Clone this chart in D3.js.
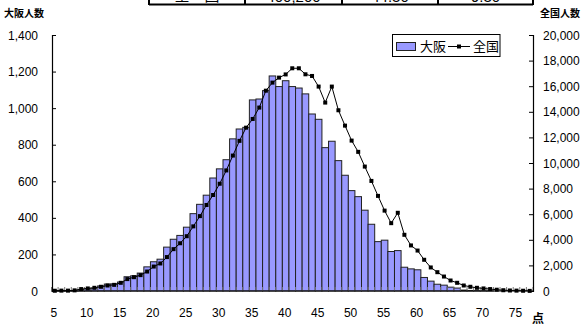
<!DOCTYPE html>
<html><head><meta charset="utf-8">
<script src="https://cdn.jsdelivr.net/npm/d3@7"></script>
<style>
html,body{margin:0;padding:0;background:#fff;}
svg{display:block;}
</style></head>
<body>
<svg id="c" width="582" height="328"></svg>
<script>
// ---- data ----
const scores = d3.range(5, 78); // 5..77 点
const osaka = [2,2,1,2,8,12,15,28,38,39,49,78,83,98,132,160,174,240,283,304,349,423,474,524,618,668,718,832,886,895,1045,1050,1096,1176,1118,1150,1118,1110,1078,968,939,784,819,713,633,549,516,442,365,270,278,216,221,130,121,116,74,54,37,32,21,16,5,3,2,1,1,0,0,0,0,0,0];
const zenkoku = [20,30,30,50,150,200,250,330,430,480,640,930,1080,1240,1520,1910,2150,2650,3270,3730,4280,5050,5850,6720,7500,8380,9420,10580,11730,12760,13440,14330,15650,16280,16670,16920,17400,17400,16930,16800,15970,14720,15970,14120,12920,11750,10870,9720,8600,7430,6280,5300,6110,4390,3560,3160,2440,1840,1470,1130,820,640,430,330,250,200,150,100,60,40,30,20,10];
const leftTicks = [0,200,400,600,800,1000,1200,1400];
const rightTicks = [0,2000,4000,6000,8000,10000,12000,14000,16000,18000,20000];
const xLabels = [5,10,15,20,25,30,35,40,45,50,55,60,65,70,75];
const seriesNames = ["大阪","全国"];
const tableCells = ["全　国","400,200","44.30","9.30"];

const svg = d3.select("#c");
const L = 52, R = 533, T = 35, B = 291;
const numFont = "'Liberation Sans', Arial, sans-serif";
const jpFont = "'Noto Sans CJK JP', sans-serif";

const x = d3.scaleBand().domain(scores).range([L - 0.5, R]).padding(0);
const yL = d3.scaleLinear().domain([0, 1400]).range([B, T]);
const yR = d3.scaleLinear().domain([0, 20000]).range([B, T]);

// top (cut-off) table
const tbl = svg.append("g");
const cellX = [149, 245, 342, 438, 533];
tbl.append("line").attr("x1", cellX[0]).attr("x2", cellX[4]).attr("y1", 4.5).attr("y2", 4.5)
  .attr("stroke", "#000").attr("stroke-width", 2);
cellX.forEach(cx => tbl.append("line").attr("x1", cx).attr("x2", cx).attr("y1", 0).attr("y2", 5)
  .attr("stroke", "#000").attr("stroke-width", 2));
tableCells.forEach((t, i) => {
  tbl.append("text").attr("x", (cellX[i] + cellX[i+1]) / 2).attr("y", i === 0 ? 1 : 2)
    .attr("text-anchor", "middle").attr("font-family", i === 0 ? jpFont : numFont)
    .attr("font-size", 15).text(t);
});

// bars
svg.append("g").selectAll("rect").data(scores).join("rect")
  .attr("x", d => x(d))
  .attr("y", (d, i) => yL(osaka[i]))
  .attr("width", x.bandwidth())
  .attr("height", (d, i) => B - yL(osaka[i]))
  .attr("fill", "#9999FF")
  .attr("stroke", "#222")
  .attr("stroke-width", 1);

// category tick marks (inside)
const catTicks = d3.range(scores.length + 1).map(i => L - 0.5 + i * x.step());
svg.append("g").selectAll("line").data(catTicks).join("line")
  .attr("x1", d => d).attr("x2", d => d).attr("y1", B).attr("y2", B - 4)
  .attr("stroke", "#777").attr("stroke-width", 1);

// axes
const axL = svg.append("g").attr("transform", `translate(${L},0)`)
  .call(d3.axisRight(yL).tickValues(leftTicks).tickSize(4).tickFormat(() => ""));
const axR = svg.append("g").attr("transform", `translate(${R},0)`)
  .call(d3.axisLeft(yR).tickValues(rightTicks).tickSize(4).tickFormat(() => ""));
[axL, axR].forEach(a => {
  a.select(".domain").attr("stroke", "#000").attr("stroke-width", 1.2);
  a.selectAll(".tick line").attr("stroke", "#000");
});
svg.append("line").attr("x1", L).attr("x2", R).attr("y1", B).attr("y2", B)
  .attr("stroke", "#000").attr("stroke-width", 1.2);

// tick labels
svg.append("g").selectAll("text").data(leftTicks).join("text")
  .attr("x", 38).attr("y", d => yL(d) + 4.5).attr("text-anchor", "end")
  .attr("font-family", numFont).attr("font-size", 12).text(d => d3.format(",")(d));
svg.append("g").selectAll("text").data(rightTicks).join("text")
  .attr("x", 543).attr("y", d => yR(d) + 4.5).attr("text-anchor", "start")
  .attr("font-family", numFont).attr("font-size", 12).text(d => d3.format(",")(d));
svg.append("g").selectAll("text").data(xLabels).join("text")
  .attr("x", d => x(d) + x.bandwidth() / 2 - 1).attr("y", 317).attr("text-anchor", "middle")
  .attr("font-family", numFont).attr("font-size", 12).text(d => d);
svg.append("text").attr("x", 532).attr("y", 323).attr("font-family", jpFont)
  .attr("font-size", 12).attr("font-weight", "bold").text("点");

// axis titles
svg.append("text").attr("x", 4).attr("y", 17).attr("font-family", jpFont)
  .attr("font-size", 10).attr("font-weight", "bold").text("大阪人数");
svg.append("text").attr("x", 540).attr("y", 17).attr("font-family", jpFont)
  .attr("font-size", 10).attr("font-weight", "bold").text("全国人数");

// line
const line = d3.line().x((d, i) => x(scores[i]) + x.bandwidth() / 2).y(d => yR(d));
svg.append("path").datum(zenkoku).attr("d", line).attr("fill", "none")
  .attr("stroke", "#000").attr("stroke-width", 1);
svg.append("g").selectAll("rect").data(zenkoku).join("rect")
  .attr("x", (d, i) => x(scores[i]) + x.bandwidth() / 2 - 2)
  .attr("y", d => yR(d) - 2).attr("width", 4).attr("height", 4).attr("fill", "#000");

// legend
const lg = svg.append("g");
lg.append("rect").attr("x", 392.5).attr("y", 34.5).attr("width", 107.5).attr("height", 22)
  .attr("fill", "#fff").attr("stroke", "#000").attr("stroke-width", 1);
lg.append("rect").attr("x", 396.5).attr("y", 42.5).attr("width", 19).attr("height", 8)
  .attr("fill", "#9999FF").attr("stroke", "#222");
lg.append("text").attr("x", 420).attr("y", 51).attr("font-family", jpFont)
  .attr("font-size", 13).text(seriesNames[0]);
lg.append("line").attr("x1", 448).attr("x2", 470).attr("y1", 46.5).attr("y2", 46.5)
  .attr("stroke", "#000");
lg.append("rect").attr("x", 457).attr("y", 44.5).attr("width", 4).attr("height", 4).attr("fill", "#000");
lg.append("text").attr("x", 473).attr("y", 51).attr("font-family", jpFont)
  .attr("font-size", 13).text(seriesNames[1]);
</script>
</body></html>
